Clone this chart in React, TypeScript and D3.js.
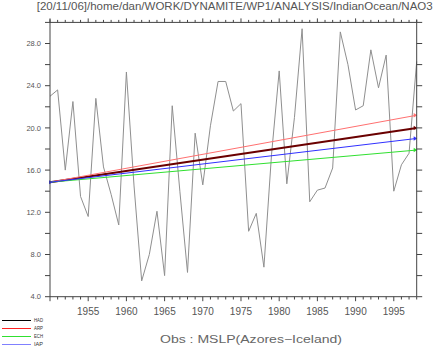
import React from "react";
import * as d3 from "d3";

const years = [1950,1951,1952,1953,1954,1955,1956,1957,1958,1959,1960,1961,1962,1963,1964,1965,1966,1967,1968,1969,1970,1971,1972,1973,1974,1975,1976,1977,1978,1979,1980,1981,1982,1983,1984,1985,1986,1987,1988,1989,1990,1991,1992,1993,1994,1995,1996,1997,1998];
const obsValues = [23.0,23.6,16.0,22.5,13.5,11.6,22.8,16.3,13.7,10.8,25.3,14.5,5.5,8.0,12.1,6.0,22.1,14.0,6.3,19.5,14.6,20.2,24.4,24.4,21.6,22.3,10.2,11.9,6.8,17.5,25.4,14.7,21.0,29.4,13.0,14.1,14.3,16.2,29.1,26.0,21.7,22.1,27.4,23.8,26.9,14.0,16.5,17.6,26.3];

const trendNames = ["HAD","ARP","ECH","IAP"];
const trendStart = [14.85,14.85,14.85,14.85];
const trendEnd = [20.0,21.2,17.9,19.0];
const trendColors = ["#6a0000","#ff7070","#30e030","#3030ff"];
const trendWidths = [2,1,1,1];
const legendColors = ["#000000","#ff2020","#30e030","#8080ff"];

const xLabelYears = [1955,1960,1965,1970,1975,1980,1985,1990,1995];
const yLabelValues = [4,8,12,16,20,24,28];
const yTickValues = [4,6,8,10,12,14,16,18,20,22,24,26,28,30];

const title = "[20/11/06]/home/dan/WORK/DYNAMITE/WP1/ANALYSIS/IndianOcean/NAO3";
const subtitle = "Obs : MSLP(Azores\u2212Iceland)";

export default function App() {
  const L = 50, R = 416.7, T = 22.4, B = 296.7;
  const x = d3.scaleLinear().domain([1950, 1998]).range([L, R]);
  const y = d3.scaleLinear().domain([4, 30]).range([B, T]);
  const line = d3.line<number>().x((_, i) => x(years[i])).y((d) => y(d));
  const axisColor = "#444";
  const textColor = "#555";
  const font = "'Liberation Sans', Arial, sans-serif";

  return (
    <svg width={435} height={347} style={{ position: "absolute", left: 0, top: 0, background: "#fff" }}>
      <rect x={0} y={0} width={435} height={347} fill="#fff" />
      <text x={36.7} y={10.3} fontSize={10} fontFamily={font} fill={textColor} textLength={396} lengthAdjust="spacingAndGlyphs">{title}</text>

      {/* data */}
      <path d={line(obsValues) || ""} fill="none" stroke="#8f8f8f" strokeWidth={1} />

      {/* trends */}
      {trendNames.map((n, i) => {
        const x0 = x(1950), x1 = x(1998), y0 = y(trendStart[i]), y1 = y(trendEnd[i]);
        return (
          <g key={n}>
            <line x1={x0} y1={y0} x2={x1} y2={y1} stroke={trendColors[i]} strokeWidth={trendWidths[i]} />
            <path d={`M${x1 - 3},${y1 - 2.2} L${x1 + 0.5},${y1} L${x1 - 3},${y1 + 2.2} Z`} fill={trendColors[i]} />
          </g>
        );
      })}
      <path d={`M${L - 1},${y(14.85) - 2} L${L + 2.5},${y(14.85)} L${L - 1},${y(14.85) + 2} Z`} fill="#3030ff" />

      {/* frame */}
      <line x1={L} y1={T} x2={R} y2={T} stroke={axisColor} strokeWidth={1} />
      <line x1={L} y1={B} x2={R} y2={B} stroke={axisColor} strokeWidth={1} />
      <line x1={L} y1={T - 3} x2={L} y2={B} stroke={axisColor} strokeWidth={1} />
      <line x1={R} y1={T - 3} x2={R} y2={B} stroke={axisColor} strokeWidth={1} />

      {years.map((yr) => {
        const major = yr % 5 === 0;
        const xx = x(yr);
        return (
          <g key={yr}>
            <line x1={xx} y1={T} x2={xx} y2={T - (major ? 4 : 2.5)} stroke={axisColor} strokeWidth={1} />
            <line x1={xx} y1={B} x2={xx} y2={B + (major ? 4.5 : 2.8)} stroke={axisColor} strokeWidth={1} />
          </g>
        );
      })}
      {yTickValues.map((v) => (
        <g key={v}>
          <line x1={L - 5} y1={y(v)} x2={L} y2={y(v)} stroke={axisColor} strokeWidth={1} />
          <line x1={R} y1={y(v)} x2={R + 5.5} y2={y(v)} stroke={axisColor} strokeWidth={1} />
        </g>
      ))}
      {yLabelValues.map((v) => (
        <text key={v} x={41} y={y(v) + 2.7} fontSize={7.5} fontFamily={font} fill={textColor} textAnchor="end">{v.toFixed(1)}</text>
      ))}
      {xLabelYears.map((yr) => (
        <text key={yr} x={x(yr)} y={314.5} fontSize={10} fontFamily={font} fill={textColor} textAnchor="middle">{yr}</text>
      ))}

      <text x={160} y={343} fontSize={10.5} fontFamily={font} fill="#666" textLength={182} lengthAdjust="spacingAndGlyphs">{subtitle}</text>

      {/* legend */}
      {trendNames.map((n, i) => (
        <g key={n}>
          <line x1={2} y1={320.5 + i * 8} x2={31} y2={320.5 + i * 8} stroke={legendColors[i]} strokeWidth={1} />
          <text x={34} y={322.3 + i * 8} fontSize={5} fontFamily={font} fill="#333" textLength={9} lengthAdjust="spacingAndGlyphs">{n}</text>
        </g>
      ))}
    </svg>
  );
}
